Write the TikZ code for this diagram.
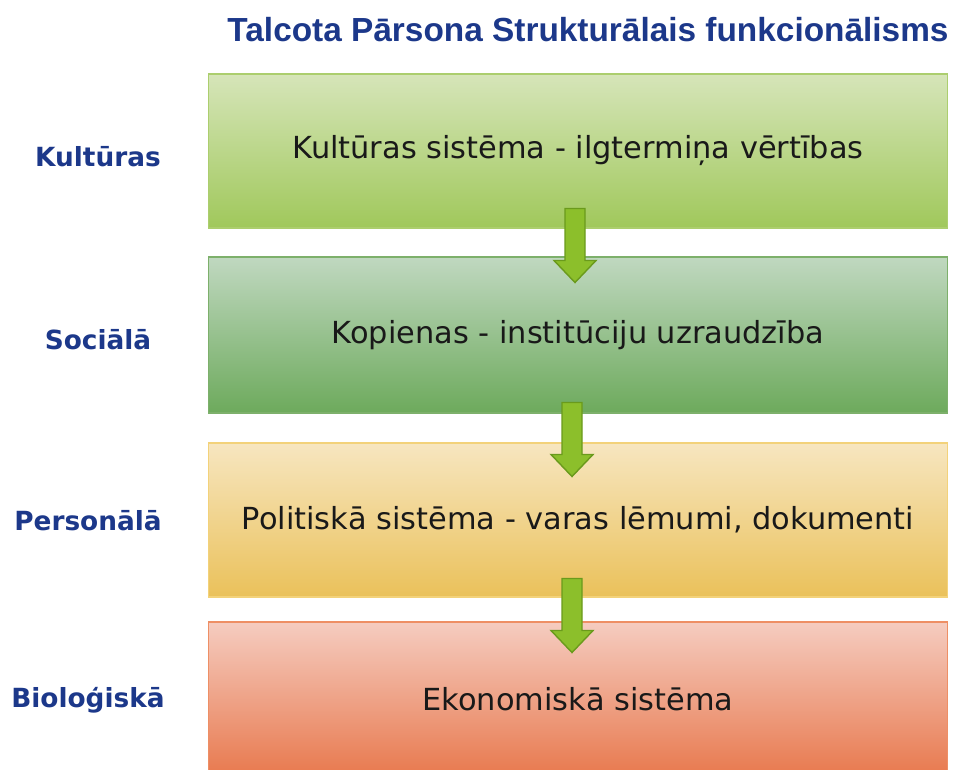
\documentclass[tikz,border=0pt]{standalone}
\usepackage{fontspec}
\setmainfont{DejaVu Sans}
\newfontfamily\titlefont{Liberation Sans}
\usepackage{tikz}
\usetikzlibrary{calc}

\definecolor{navy}{HTML}{1C388A}
\definecolor{arrowgreen}{HTML}{8CBF2B}
\definecolor{arrowedge}{HTML}{6A9A1C}

\newcommand{\flowarrow}[1]{%
  \filldraw[fill=arrowgreen,draw=arrowedge,line width=0.8pt,line join=miter]
    (#1) ++(-10,0) -- ++(20,0) -- ++(0,52) -- ++(11,0) -- ++(-21,22) -- ++(-21,-22) -- ++(11,0) -- cycle;}

\begin{document}
\begin{tikzpicture}[x=0.02cm,y=-0.02cm,
    box/.style={draw,line width=0.6pt,minimum width=14.8cm,inner sep=0pt,
      font=\fontsize{17.3}{20}\selectfont,text=black!90},
    level/.style={font=\fontsize{15}{18}\selectfont\bfseries,text=navy}]
            \useasboundingbox (0,0) rectangle (956,770);

            \node[font=\titlefont\fontsize{19}{22}\selectfont\bfseries,text=navy] (title) at (588,30) {Talcota Pārsona Strukturālais funkcionālisms};

            \node[box,minimum height=3.08cm,draw={rgb,255:red,172;green,206;blue,110},top color={rgb,255:red,214;green,229;blue,185},bottom color={rgb,255:red,160;green,200;blue,91}] (kult) at (578,151) {Kultūras sistēma - ilgtermiņa vērtības};
            \node[box,minimum height=3.12cm,draw={rgb,255:red,125;green,176;blue,107},top color={rgb,255:red,192;green,216;blue,192},bottom color={rgb,255:red,109;green,170;blue,92}] (soc) at (578,335) {Kopienas - institūciju uzraudzība};
            \node[box,minimum height=3.08cm,draw={rgb,255:red,243;green,210;blue,122},top color={rgb,255:red,247;green,230;blue,192},bottom color={rgb,255:red,234;green,193;blue,90}] (pers) at (578,520) {Politiskā sistēma - varas lēmumi, dokumenti};
            \node[box,minimum height=3.08cm,draw={rgb,255:red,238;green,143;blue,101},top color={rgb,255:red,245;green,204;blue,192},bottom color={rgb,255:red,232;green,121;blue,78}] (bio) at (578,699) {Ekonomiskā sistēma};

            \node[level] (lkult) at (98,157) {Kultūras};
            \node[level] (lsoc) at (98,340) {Sociālā};
            \node[level] (lpers) at (88,521) {Personālā};
            \node[level] (lbio) at (88,700) {Bioloģiskā};

            \coordinate (a1) at ($(kult.south)+(-3,-20)$);
            \coordinate (a2) at ($(soc.south)+(-6,-11)$);
            \coordinate (a3) at ($(pers.south)+(-6,-19)$);
            \flowarrow{a1}
            \flowarrow{a2}
            \flowarrow{a3}

        \end{tikzpicture}
\end{document}
